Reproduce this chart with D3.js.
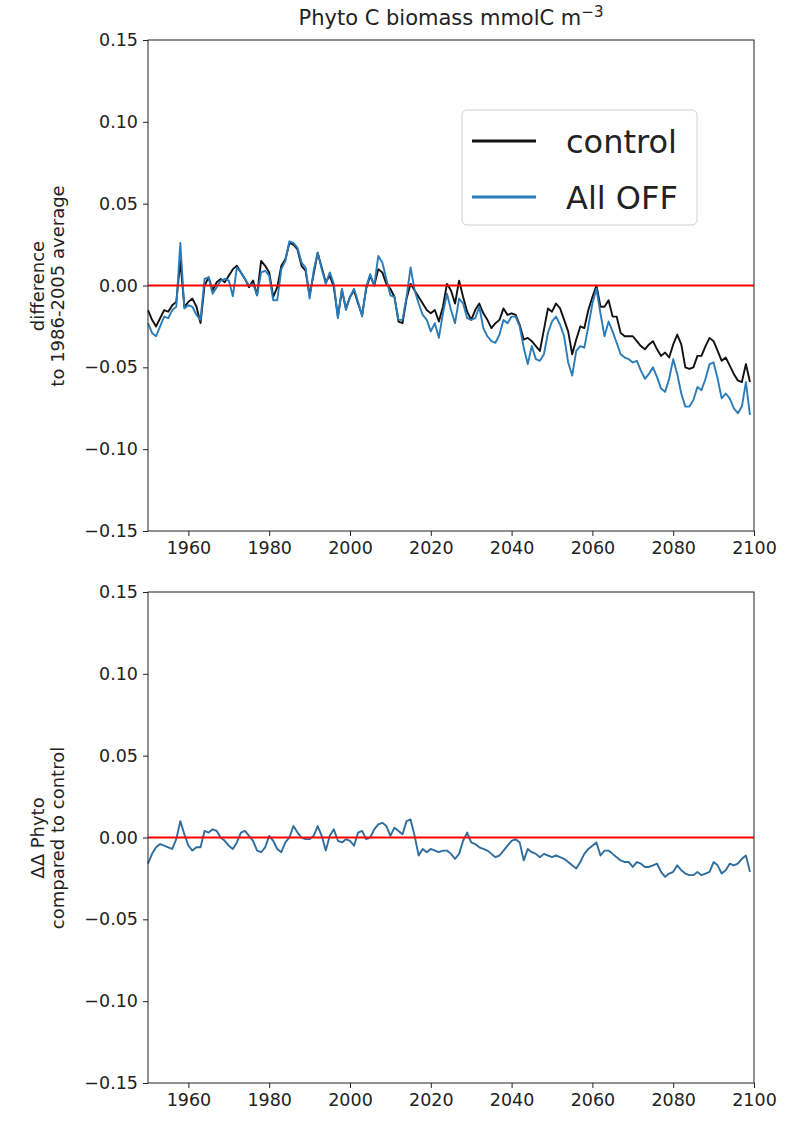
<!DOCTYPE html>
<html>
<head>
<meta charset="utf-8">
<script src="https://cdn.jsdelivr.net/npm/d3@7"></script>
<style>
  html, body { margin: 0; padding: 0; background: #fff; }
  svg { display: block; }
  text { font-family: "DejaVu Sans", sans-serif; fill: #222; }
</style>
</head>
<body>
<svg id="chart" width="794" height="1121"></svg>
<script>
// ---------------- data ----------------
const startYear = 1950;
const xTicks = [1960, 1980, 2000, 2020, 2040, 2060, 2080, 2100];
const yTicks = [-0.15, -0.10, -0.05, 0.00, 0.05, 0.10, 0.15];
const seriesNames = ["control", "All OFF"];

// control, difference to 1986-2005 average (1950..2099)
const control = [
  -0.015,-0.021,-0.025,-0.020,-0.015,-0.016,-0.012,-0.010,0.015,-0.013,
  -0.010,-0.008,-0.013,-0.023,0.000,0.005,-0.003,0.002,0.004,0.002,
  0.006,0.010,0.012,0.008,0.004,-0.001,0.003,-0.006,0.015,0.012,
  0.008,-0.007,-0.001,0.012,0.016,0.026,0.025,0.022,0.012,0.009,
  -0.006,0.007,0.020,0.011,0.002,0.006,-0.001,-0.019,-0.003,-0.014,
  -0.007,-0.003,-0.011,-0.018,-0.002,0.006,0.000,0.010,0.008,0.001,
  -0.002,-0.007,-0.022,-0.023,-0.008,0.001,-0.003,-0.007,-0.011,-0.015,
  -0.017,-0.015,-0.022,-0.013,0.001,-0.003,-0.011,0.003,-0.007,-0.016,
  -0.021,-0.015,-0.011,-0.017,-0.021,-0.026,-0.023,-0.021,-0.014,-0.018,
  -0.017,-0.018,-0.024,-0.033,-0.032,-0.034,-0.037,-0.040,-0.027,-0.014,
  -0.016,-0.011,-0.014,-0.021,-0.028,-0.042,-0.033,-0.025,-0.026,-0.015,
  -0.007,0.000,-0.013,-0.013,-0.009,-0.019,-0.019,-0.029,-0.031,-0.031,
  -0.031,-0.034,-0.037,-0.039,-0.036,-0.034,-0.039,-0.043,-0.041,-0.044,
  -0.036,-0.030,-0.036,-0.050,-0.051,-0.050,-0.043,-0.043,-0.037,-0.032,
  -0.034,-0.040,-0.046,-0.044,-0.049,-0.054,-0.058,-0.059,-0.048,-0.059
];

// All OFF, difference to 1986-2005 average (1950..2099)
const allOff = [
  -0.023,-0.029,-0.031,-0.025,-0.019,-0.020,-0.015,-0.013,0.026,-0.014,
  -0.012,-0.013,-0.018,-0.021,0.004,0.005,-0.005,-0.001,0.003,0.004,
  0.003,-0.0065,0.011,0.008,0.004,0.000,0.001,-0.006,0.008,0.009,
  0.006,-0.009,-0.009,0.010,0.015,0.027,0.026,0.023,0.014,0.011,
  -0.008,0.009,0.020,0.010,0.001,0.008,0.001,-0.020,-0.002,-0.015,
  -0.007,-0.002,-0.010,-0.019,-0.001,0.007,0.000,0.018,0.014,0.004,
  -0.006,-0.007,-0.021,-0.021,-0.007,0.011,-0.003,-0.011,-0.018,-0.021,
  -0.028,-0.023,-0.032,-0.017,-0.005,-0.015,-0.023,-0.008,-0.011,-0.020,
  -0.021,-0.020,-0.013,-0.026,-0.031,-0.034,-0.035,-0.030,-0.021,-0.023,
  -0.019,-0.019,-0.025,-0.038,-0.048,-0.037,-0.045,-0.046,-0.042,-0.029,
  -0.022,-0.019,-0.024,-0.031,-0.047,-0.055,-0.040,-0.037,-0.038,-0.025,
  -0.011,-0.002,-0.017,-0.031,-0.022,-0.028,-0.035,-0.042,-0.044,-0.045,
  -0.047,-0.046,-0.052,-0.057,-0.054,-0.050,-0.056,-0.063,-0.065,-0.057,
  -0.045,-0.054,-0.066,-0.074,-0.074,-0.070,-0.062,-0.064,-0.057,-0.048,
  -0.047,-0.057,-0.069,-0.066,-0.069,-0.075,-0.078,-0.074,-0.059,-0.079
];

// ΔΔ Phyto, All OFF compared to control (1950..2099)
const deltaDelta = [
  -0.016,-0.010,-0.006,-0.004,-0.005,-0.006,-0.007,-0.001,0.010,0.002,
  -0.005,-0.008,-0.006,-0.006,0.004,0.003,0.005,0.004,0.000,-0.002,
  -0.005,-0.007,-0.003,0.003,0.004,0.001,-0.002,-0.008,-0.009,-0.006,
  0.001,-0.002,-0.007,-0.009,-0.003,0.000,0.007,0.003,0.000,-0.001,
  -0.001,0.001,0.007,0.001,-0.008,0.001,0.005,-0.002,-0.003,-0.001,
  -0.002,-0.005,0.003,0.004,-0.001,0.000,0.005,0.008,0.009,0.007,
  0.001,0.006,0.004,0.002,0.010,0.011,0.001,-0.011,-0.007,-0.009,
  -0.007,-0.008,-0.009,-0.008,-0.008,-0.010,-0.013,-0.010,-0.002,0.003,
  -0.003,-0.004,-0.006,-0.007,-0.008,-0.010,-0.012,-0.011,-0.008,-0.005,
  -0.002,-0.001,-0.003,-0.014,-0.007,-0.009,-0.010,-0.012,-0.010,-0.011,
  -0.012,-0.011,-0.012,-0.013,-0.015,-0.017,-0.019,-0.015,-0.010,-0.007,
  -0.005,-0.003,-0.011,-0.008,-0.008,-0.010,-0.012,-0.014,-0.015,-0.015,
  -0.018,-0.015,-0.016,-0.018,-0.018,-0.017,-0.016,-0.021,-0.024,-0.022,
  -0.021,-0.017,-0.020,-0.022,-0.023,-0.023,-0.021,-0.023,-0.022,-0.021,
  -0.015,-0.017,-0.022,-0.020,-0.016,-0.017,-0.016,-0.013,-0.011,-0.021
];

// ---------------- drawing ----------------
const svg = d3.select("#chart");
const left = 148, right = 754;
const panels = [
  { top: 40, bottom: 531 },
  { top: 592, bottom: 1083 }
];
const tickFont = "17.5px";

const x = d3.scaleLinear().domain([1950, 2100]).range([left, right]);
const years = control.map((_, i) => startYear + i);

function makeY(p) {
  return d3.scaleLinear().domain([-0.15, 0.15]).range([p.bottom, p.top]);
}

function drawAxes(p, y) {
  const g = svg.append("g");
  const yAxis = d3.axisLeft(y).tickValues(yTicks).tickSize(5).tickPadding(5)
    .tickFormat(v => (v < -1e-9 ? "\u2212" : "") + Math.abs(v).toFixed(2));
  const ga = g.append("g").attr("transform", `translate(${left},0)`).call(yAxis);
  const xAxis = d3.axisBottom(x).tickValues(xTicks).tickSize(5).tickPadding(6).tickFormat(d3.format("d"));
  const gx = g.append("g").attr("transform", `translate(0,${p.bottom})`).call(xAxis);
  [ga, gx].forEach(a => {
    a.select(".domain").remove();
    a.selectAll("line").attr("stroke", "#222").attr("stroke-width", 1);
    a.selectAll("text").style("font-family", "DejaVu Sans, sans-serif")
      .style("font-size", tickFont).attr("fill", "#222");
  });
  g.append("rect").attr("x", left).attr("y", p.top)
    .attr("width", right - left).attr("height", p.bottom - p.top)
    .attr("fill", "none").attr("stroke", "#222").attr("stroke-width", 1);
}

function drawLine(values, y, color, width) {
  const line = d3.line().x((d, i) => x(years[i])).y(d => y(d));
  svg.append("path").datum(values).attr("d", line)
    .attr("fill", "none").attr("stroke", color).attr("stroke-width", width)
    .attr("stroke-linejoin", "round");
}

function drawZero(y) {
  svg.append("line").attr("x1", left).attr("x2", right)
    .attr("y1", y(0)).attr("y2", y(0))
    .attr("stroke", "#ff0000").attr("stroke-width", 2);
}

// Top panel
const y1 = makeY(panels[0]);
drawLine(control, y1, "#111111", 1.9);
drawLine(allOff, y1, "#2a7bb9", 1.9);
drawZero(y1);
drawAxes(panels[0], y1);

// Bottom panel
const y2 = makeY(panels[1]);
drawLine(deltaDelta, y2, "#2f6d9e", 1.9);
drawZero(y2);
drawAxes(panels[1], y2);

// Title
const title = svg.append("text").attr("x", 451).attr("y", 25)
  .attr("text-anchor", "middle").style("font-size", "21px");
title.append("tspan").text("Phyto C biomass mmolC m");
title.append("tspan").attr("dy", -8).style("font-size", "15px").text("\u22123");

// Y labels
function yLabel(lines, cy, xs) {
  lines.forEach((t, i) => {
    svg.append("text").attr("transform", `translate(${xs[i]},${cy}) rotate(-90)`)
      .attr("text-anchor", "middle").style("font-size", "18px").text(t);
  });
}
yLabel(["difference", "to 1986-2005 average"], 286, [44, 64]);
yLabel(["\u0394\u0394 Phyto", "compared to control"], 838, [44, 64]);

// Legend
const lg = svg.append("g");
lg.append("rect").attr("x", 462).attr("y", 110).attr("width", 235).attr("height", 115)
  .attr("rx", 5).attr("fill", "#fff").attr("fill-opacity", 0.85)
  .attr("stroke", "#d0d0d0").attr("stroke-width", 1);
const legendItems = [
  { name: seriesNames[0], color: "#111111", y: 141 },
  { name: seriesNames[1], color: "#2a7bb9", y: 197 }
];
legendItems.forEach(it => {
  lg.append("line").attr("x1", 472).attr("x2", 536).attr("y1", it.y).attr("y2", it.y)
    .attr("stroke", it.color).attr("stroke-width", 3);
  lg.append("text").attr("x", 566).attr("y", it.y + 12)
    .style("font-size", "32px").text(it.name);
});
</script>
</body>
</html>
